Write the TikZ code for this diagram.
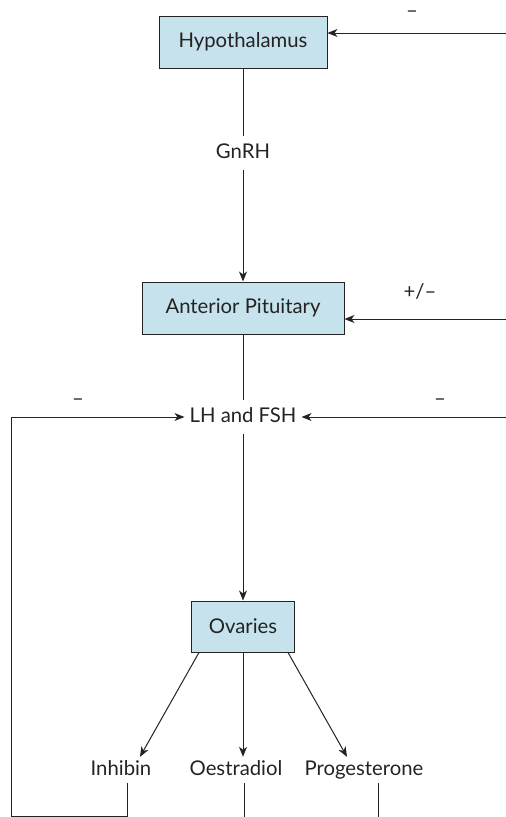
\documentclass[tikz,border=0pt]{standalone}
\usepackage{fontspec}
\setmainfont{Lato}
\usepackage{xcolor}
\usetikzlibrary{arrows.meta,positioning,calc}
\definecolor{glandblue}{RGB}{198,226,236}
\definecolor{inkgray}  {RGB}{35,35,35}
\tikzset{
  glandbox/.style={draw=inkgray, fill=glandblue, line width=1pt,
                   minimum width=#1, minimum height=52pt,
                   text=inkgray, inner sep=2pt},
  glandbox/.default=170pt,
  hormone/.style ={text=inkgray, inner xsep=5pt, inner ysep=4pt,
                   text height=14pt, text depth=4pt},
  sign/.style    ={text=inkgray, inner sep=0pt},
  arr/.style     ={-{Stealth[length=10pt,width=8pt,inset=3pt]},
                   line width=1pt, draw=inkgray},
  ln/.style      ={line width=1pt, draw=inkgray},
}

\begin{document}
\begin{tikzpicture}[x=1pt,y=-1pt,font=\fontsize{20.3}{24}\selectfont]
  \useasboundingbox (0,0) rectangle (506,817);
  % glands
  \node[glandbox=168pt] (hyp) at (243,42) {Hypothalamus};
  \node[glandbox=202pt] (ap) at (243,308) {Anterior Pituitary};
  \node[glandbox=103pt, minimum height=51pt] (ov) at (243,626.5) {Ovaries};
  % hormones
  \node[hormone, inner ysep=8pt] (gnrh) at (243,153) {GnRH};
  \node[hormone, inner ysep=8pt] (lh) at (243,417) {LH and FSH};
  \node[hormone] (inh) at (121,770) {Inhibin};
  \node[hormone] (oes) at (236,770) {Oestradiol};
  \node[hormone] (prg) at (364,770) {Progesterone};
  % free ends
  \coordinate (hypin) at (506,33);
  \coordinate (apin)  at (506,319);
  \coordinate (lhin)  at (506,417);
  \coordinate (loop)  at (11,816);
  \coordinate (inhb)  at (127,816);
  \coordinate (oesb)  at (244,817);
  \coordinate (prgb)  at (378,817);
  % axis
  \draw[ln] (hyp) -- (gnrh);
  \draw[arr] (gnrh) -- (ap);
  \draw[ln] (ap) -- (lh);
  \draw[arr] (lh) -- (ov);
  \draw[arr] (ov.south west) ++(8,0) -- (inh.north -| 140,0);
  \draw[arr] (ov) -- (oes.north -| ov);
  \draw[arr] (ov.south east) ++(-7,0) -- (prg.north -| 347,0);
  % feedback
  \draw[arr] (hypin) -- (hyp.east |- hypin);
  \draw[arr] (apin) -- (ap.east |- apin);
  \draw[arr] (lhin) -- (lh.east);
  \draw[arr] (inhb |- inh.south) -- (inhb) -- (loop) |- (lh.west);
  \draw[ln] (oesb |- oes.south) -- (oesb);
  \draw[ln] (prgb |- prg.south) -- (prgb);
  % signs
  \node[sign] (s1) at (412,14) {–};
  \node[sign] (s2) at (420,291) {+/–};
  \node[sign] (s3) at (78,402) {–};
  \node[sign] (s4) at (440,402) {–};
\end{tikzpicture}
\end{document}
